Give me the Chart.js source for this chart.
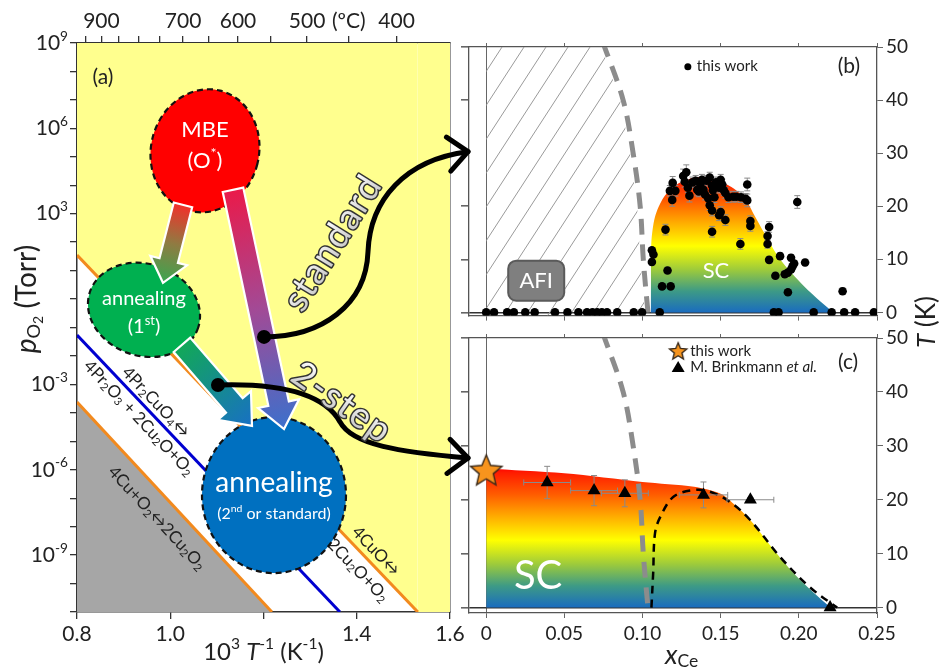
<!DOCTYPE html>
<html>
<head>
<meta charset="utf-8">
<script src="https://cdn.jsdelivr.net/npm/chart.js@4.4.1/dist/chart.umd.min.js"></script>
<style>
  html, body { margin: 0; padding: 0; background: #fff; }
  #wrap { position: relative; width: 940px; height: 669px; overflow: hidden; }
  canvas { position: absolute; }
  #cB { left: 460px; top: 0; z-index: 1; }
  #cC { left: 460px; top: 260px; z-index: 2; }
  #cA { left: 0; top: 0; z-index: 3; }
</style>
</head>
<body>
<div id="wrap">
  <canvas id="cB" width="480" height="330"></canvas>
  <canvas id="cC" width="480" height="409"></canvas>
  <canvas id="cA" width="480" height="669"></canvas>
</div>
<script>
// ---- panel (a): phase boundaries, 1000/T (K^-1) vs p(O2) (Torr)
const cuoLineX = [0.8, 1.531, 1.6];
const cuoLineP = [35, 1e-11, 1e-11];
const prLineX = [0.8, 1.364];
const prLineP = [5.4e-2, 1e-11];
const cu2o2LineX = [0.8, 1.218];
const cu2o2LineP = [2.4e-4, 1e-11];
const celsiusTicks = [950, 900, 850, 800, 750, 700, 650, 600, 550, 500, 450, 400];
const celsiusLabels = [900, 700, 600, 500, 400];
const pDecades = [-11, -10, -9, -8, -7, -6, -5, -4, -3, -2, -1, 0, 1, 2, 3, 4, 5, 6, 7, 8, 9];
const pLabelExps = [9, 6, 3, -3, -6, -9];
const invTLabels = [0.8, 1.0, 1.4, 1.6];

// ---- panels (b), (c): x_Ce vs T (K)
const xTicks = [0, 0.05, 0.10, 0.15, 0.20, 0.25];
const tTicks = [0, 10, 20, 30, 40, 50];
// this work, non-superconducting samples (Tc = 0)
const zeroX = [0, 0.005, 0.0134, 0.0177, 0.025, 0.031, 0.044, 0.052, 0.059, 0.0645, 0.068, 0.071,
  0.074, 0.0773, 0.0838, 0.0944, 0.0997, 0.111, 0.184, 0.187, 0.2095, 0.221, 0.229, 0.236, 0.248];
// this work, superconducting samples
const workX = [0.106, 0.107, 0.106, 0.1125, 0.118, 0.116, 0.1147, 0.1193, 0.1175, 0.121, 0.119, 0.126,
  0.128, 0.130, 0.129, 0.127, 0.134, 0.137, 0.138, 0.139, 0.141, 0.143, 0.1445, 0.145, 0.146, 0.150,
  0.151, 0.152, 0.155, 0.135, 0.140, 0.132, 0.147, 0.149, 0.153, 0.158, 0.136, 0.142, 0.143, 0.1445,
  0.150, 0.149, 0.153, 0.1445, 0.1626, 0.160, 0.163, 0.166, 0.167, 0.167, 0.169, 0.169, 0.181, 0.180,
  0.180, 0.181, 0.185, 0.188, 0.191, 0.193, 0.193, 0.195, 0.196, 0.197, 0.195, 0.204, 0.199, 0.228];
const workTc = [11.7, 10.9, 9.5, 4.9, 4.9, 7.9, 15.6, 24.4, 22.9, 22.9, 21.2, 25.7,
  26.4, 22.0, 23.5, 24.6, 24.8, 24.1, 25.0, 23.1, 24.8, 25.4, 23.9, 23.0, 21.7, 25.0,
  24.1, 23.0, 21.7, 23.1, 22.2, 24.5, 24.5, 23.5, 22.5, 21.8, 22.8, 21.5, 20.2, 19.2,
  18.9, 18.3, 17.4, 15.2, 12.9, 21.8, 21.7, 21.4, 24.1, 21.1, 17.2, 16.3, 16.1, 14.4,
  12.9, 9.9, 6.9, 10.6, 7.2, 7.5, 3.8, 8.1, 8.7, 9.2, 10.3, 9.4, 20.8, 4.0];
const workErr = [0, 0, 0.6, 0, 0, 0.6, 1.0, 1.2, 1.0, 1.0, 1.2, 1.3,
  1.4, 1.2, 0.9, 1.0, 1.0, 1.0, 1.0, 1.0, 1.0, 1.0, 1.0, 1.0, 1.0, 1.0,
  1.0, 1.0, 1.0, 1.0, 1.0, 1.0, 1.0, 1.0, 1.0, 1.0, 1.0, 1.0, 1.0, 1.0,
  1.0, 1.0, 1.0, 1.0, 1.0, 1.0, 1.0, 1.0, 1.2, 1.2, 1.0, 1.0, 1.0, 0.8,
  0.8, 0.6, 0.6, 0.6, 0.6, 0.6, 0.6, 0.6, 0.6, 0.6, 0.6, 0.6, 1.2, 0.6];
// SC dome outline, panel (b)
const scBx = [0.1052, 0.1054, 0.1056, 0.108, 0.1136, 0.122, 0.133, 0.141, 0.154, 0.165, 0.171, 0.178, 0.188, 0.203, 0.214, 0.222];
const scBt = [0, 6, 13, 18, 21.7, 24.1, 25.4, 25.4, 24.1, 21.7, 18.6, 14.9, 10, 5, 2, 0];
// AFI boundary (gray dashed), panels (b) and (c)
const afiX = [0.0745, 0.0876, 0.094, 0.0985, 0.1005, 0.1035, 0.104];
const afiT = [51, 40, 30, 20, 10, 0, -1];
// SC region outline, panel (c)
const scCx = [0, 0.05, 0.10, 0.133, 0.15, 0.158, 0.169, 0.184, 0.197, 0.209, 0.2205];
const scCt = [25.8, 24.9, 23.3, 22.4, 21.1, 19.3, 16.2, 10.7, 6.3, 2.9, 0];
// black dashed dome, panel (c)
const domeX = [0.1057, 0.1068, 0.108, 0.1115, 0.12, 0.133, 0.143, 0.156, 0.169, 0.188, 0.207, 0.2245];
const domeT = [0, 6.3, 13.8, 16.9, 20.6, 21.8, 21.5, 19.6, 16.2, 9.4, 3.8, 0];
// M. Brinkmann et al.
const brX = [0.039, 0.069, 0.0887, 0.139, 0.169, 0.220];
const brTc = [23.2, 21.7, 21.2, 20.9, 20.0, 0];
const brXErr = [0.015, 0.015, 0.015, 0.0155, 0.015, 0];
const brTErr = [3.0, 2.8, 2.5, 2.4, 0.4, 0];
// this work, panel (c)
const starX = [0];
const starTc = [25.5];

const FONT = 'Lato, "Open Sans", "DejaVu Sans", sans-serif';
const ORANGE = '#f28a1e';
const YELLOW = '#ffff8e';
const GRAY = '#a6a6a6';
const INK = '#222';
const FRAME = '#555';
const scStops = [[0, '#1a6cbf'], [4, '#3d9a86'], [8, '#9cca3c'], [12.5, '#ffff00'], [17, '#ffaa00'], [21, '#ff5c00'], [25, '#ff1c00'], [26, '#ff0000']];

Chart.defaults.font.family = FONT;
Chart.defaults.color = INK;

const pts = (xs, ys) => xs.map((x, i) => ({ x, y: ys[i] }));

// ---- rich text helpers (sub/superscripts, italics)
function parseRich(s) {
  const out = [];
  let buf = '', i = 0;
  const push = (t, m, it) => { if (t) out.push({ t, m, it }); };
  while (i < s.length) {
    const c = s[i];
    if (c === '_' || c === '^' || c === '%') {
      push(buf, 'n', false); buf = '';
      let t;
      if (s[i + 1] === '{') { const j = s.indexOf('}', i); t = s.slice(i + 2, j); i = j + 1; }
      else { t = s[i + 1]; i += 2; }
      push(t, c === '_' ? 'sub' : c === '^' ? 'sup' : 'n', c === '%');
    } else { buf += c; i++; }
  }
  push(buf, 'n', false);
  return out;
}

function drawRich(ctx, parts, x, y, size, align = 'center') {
  const segs = parts.map(p => {
    const s = p.m === 'sub' || p.m === 'sup' ? size * 0.65 : p.m === 'sub2' ? size * 0.5 : size;
    const dy = p.m === 'sub' ? size * 0.25 : p.m === 'sup' ? -size * 0.32 : p.m === 'sub2' ? size * 0.42 : 0;
    const font = `${p.it ? 'italic ' : ''}${s}px ${FONT}`;
    ctx.font = font;
    return { t: p.t, font, dy, w: ctx.measureText(p.t).width };
  });
  const total = segs.reduce((a, s) => a + s.w, 0);
  let cx = align === 'center' ? x - total / 2 : align === 'right' ? x - total : x;
  ctx.textAlign = 'left';
  ctx.textBaseline = 'middle';
  segs.forEach(s => { ctx.font = s.font; ctx.fillText(s.t, cx, y + s.dy); cx += s.w; });
}

function rotated(ctx, x, y, deg, fn) {
  ctx.save(); ctx.translate(x, y); ctx.rotate(deg * Math.PI / 180); fn(); ctx.restore();
}

// ---- panel (a) annotations, placed in data coordinates [1000/T, log10 p]
const bubblesA = [
  { at: [1.0745, 5.21], rx: 54, ry: 62, rot: 14, fill: '#ff0000', lines: [['MBE', 22, -21], ['(O^*)', 22, 10]] },
  { at: [0.9437, -0.38], rx: 57, ry: 46, rot: 18, fill: '#00b050', lines: [['annealing', 20, -11], ['(1^{st})', 20, 17]] },
  { at: [1.2225, -6.89], rx: 72, ry: 78, rot: 0, fill: '#0070c0', lines: [['annealing', 28, -12], ['(2^{nd} or standard)', 16, 19]] },
];
const arrowsA = [
  { from: [1.0273, 3.31], to: [0.9844, 0.57], shaft: 19, head: 38, headLen: 23, stops: [[0, '#f2302a'], [0.5, '#8f7b42'], [1, '#3aa650']] },
  { from: [1.1346, 3.84], to: [1.244, -4.57], shaft: 21, head: 42, headLen: 26, stops: [[0, '#ea1a4a'], [0.5, '#a24a96'], [1, '#3c70cc']] },
  { from: [1.0252, -1.61], to: [1.1753, -4.46], shaft: 22, head: 44, headLen: 27, stops: [[0, '#12a858'], [1, '#1870c4']] },
];
const curvesA = [
  [[1.2011, -1.33], [1.3255, -1.33], [1.4198, -0.20], [1.4241, 1.66], [1.4284, 3.49], [1.5035, 4.90], [1.6386, 5.18]],
  [[1.1024, -3.02], [1.2461, -2.95], [1.3319, -3.37], [1.3641, -4.32], [1.3898, -5.13], [1.4928, -5.38], [1.6386, -5.59]],
];
const routeLabels = [
  { text: 'standard', at: [1.349, 1.98], angle: -58 },
  { text: '2-step', at: [1.3684, -3.65], angle: 35 },
];
const lineLabels = [
  { text: '4Pr_2CuO_4↔', at: [0.9694, -3.62], line: 1 },
  { text: '4Pr_2O_3 + 2Cu_2O+O_2', at: [0.933, -4.18], line: 1 },
  { text: '4Cu+O_2↔2Cu_2O_2', at: [0.9716, -7.70], line: 2 },
  { text: '4CuO↔', at: [1.4413, -8.86], line: 0 },
  { text: '2Cu_2O+O_2', at: [1.4027, -9.53], line: 0 },
];

function blockArrow(ctx, x0, y0, x1, y1, a) {
  const ang = Math.atan2(y1 - y0, x1 - x0), len = Math.hypot(x1 - x0, y1 - y0);
  ctx.save();
  ctx.translate(x0, y0); ctx.rotate(ang);
  ctx.beginPath();
  ctx.moveTo(0, -a.shaft / 2); ctx.lineTo(len - a.headLen, -a.shaft / 2); ctx.lineTo(len - a.headLen, -a.head / 2);
  ctx.lineTo(len, 0);
  ctx.lineTo(len - a.headLen, a.head / 2); ctx.lineTo(len - a.headLen, a.shaft / 2); ctx.lineTo(0, a.shaft / 2);
  ctx.closePath();
  const g = ctx.createLinearGradient(0, 0, len, 0);
  a.stops.forEach(([o, c]) => g.addColorStop(o, c));
  ctx.fillStyle = g; ctx.fill();
  ctx.lineWidth = 2.2; ctx.strokeStyle = '#fff'; ctx.lineJoin = 'miter'; ctx.stroke();
  ctx.restore();
}

function curveArrow(ctx, p) {
  ctx.save();
  ctx.lineWidth = 5; ctx.strokeStyle = '#000'; ctx.lineCap = 'round'; ctx.lineJoin = 'round';
  ctx.beginPath(); ctx.moveTo(p[0][0], p[0][1]);
  for (let i = 1; i + 2 < p.length; i += 3) ctx.bezierCurveTo(p[i][0], p[i][1], p[i + 1][0], p[i + 1][1], p[i + 2][0], p[i + 2][1]);
  ctx.stroke();
  const tip = p[p.length - 1], prev = p[p.length - 2];
  const ang = Math.atan2(tip[1] - prev[1], tip[0] - prev[0]);
  ctx.beginPath();
  [-0.72, 0.72].forEach(s => {
    ctx.moveTo(tip[0] + 26 * Math.cos(ang + Math.PI + s), tip[1] + 26 * Math.sin(ang + Math.PI + s));
    ctx.lineTo(tip[0], tip[1]);
  });
  ctx.stroke();
  ctx.beginPath(); ctx.arc(p[0][0], p[0][1], 7, 0, Math.PI * 2); ctx.fillStyle = '#000'; ctx.fill();
  ctx.restore();
}

const panelAPlugin = {
  id: 'panelA',
  afterDraw(chart) {
    const { ctx, chartArea: a, scales } = chart;
    const X = v => scales.x.getPixelForValue(v);
    const Y = lp => scales.y.getPixelForValue(Math.pow(10, lp));
    const P = ([x, lp]) => [X(x), Y(lp)];
    ctx.save();
    ctx.fillStyle = INK;
    // log tick labels
    pLabelExps.forEach(e => drawRich(ctx, parseRich(`10^{${e}}`), a.left - 9, Y(e), 21, 'right'));
    // axis titles
    drawRich(ctx, parseRich('10^3 %T^{-1} (K^{-1})'), (a.left + a.right) / 2, a.bottom + 40, 24);
    rotated(ctx, a.left - 50, Y(0), -90, () => drawRich(ctx, [
      { t: 'p', m: 'n', it: true }, { t: 'O', m: 'sub' }, { t: '2', m: 'sub2' }, { t: ' (Torr)', m: 'n' }
    ], 0, 0, 28));
    // reaction labels along the boundaries
    lineLabels.forEach(l => {
      const d = chart.getDatasetMeta(l.line).data;
      const ang = Math.atan2(d[1].y - d[0].y, d[1].x - d[0].x) * 180 / Math.PI;
      const [x, y] = P(l.at);
      ctx.fillStyle = INK;
      rotated(ctx, x, y, ang, () => drawRich(ctx, parseRich(l.text), 0, 0, 17));
    });
    // process bubbles
    bubblesA.forEach(b => {
      const [cx, cy] = P(b.at);
      ctx.beginPath(); ctx.ellipse(cx, cy, b.rx, b.ry, b.rot * Math.PI / 180, 0, Math.PI * 2);
      ctx.fillStyle = b.fill; ctx.fill();
      ctx.setLineDash([6, 4]); ctx.lineWidth = 2.2; ctx.strokeStyle = '#111'; ctx.stroke(); ctx.setLineDash([]);
      ctx.fillStyle = '#fff';
      b.lines.forEach(([t, size, dy]) => drawRich(ctx, parseRich(t), cx, cy + dy, size));
    });
    arrowsA.forEach(ar => { const [x0, y0] = P(ar.from), [x1, y1] = P(ar.to); blockArrow(ctx, x0, y0, x1, y1, ar); });
    curvesA.forEach(c => curveArrow(ctx, c.map(P)));
    routeLabels.forEach(r => {
      const [x, y] = P(r.at);
      rotated(ctx, x, y, r.angle, () => {
        ctx.font = `36px ${FONT}`; ctx.textAlign = 'center'; ctx.textBaseline = 'middle';
        if ('letterSpacing' in ctx) ctx.letterSpacing = '2px';
        ctx.lineWidth = 3; ctx.strokeStyle = '#333'; ctx.lineJoin = 'round'; ctx.strokeText(r.text, 0, 0);
        const g = ctx.createLinearGradient(0, -16, 0, 16); g.addColorStop(0, '#ffffff'); g.addColorStop(1, '#c4c4c4');
        ctx.fillStyle = g; ctx.fillText(r.text, 0, 0);
        if ('letterSpacing' in ctx) ctx.letterSpacing = '0px';
      });
    });
    ctx.fillStyle = INK;
    drawRich(ctx, parseRich('(a)'), X(0.8558), Y(7.78), 21);
    ctx.restore();
  }
};

const axisGrid = { drawOnChartArea: false, tickLength: 7, color: '#333', lineWidth: 1.3 };
const axisBorder = { color: '#333', width: 1.5 };

new Chart(document.getElementById('cA'), {
  type: 'scatter',
  data: {
    datasets: [
      { label: '4CuO / 2Cu2O+O2', data: pts(cuoLineX, cuoLineP), showLine: true, pointRadius: 0, borderWidth: 3,
        borderColor: ORANGE, fill: 'end', backgroundColor: YELLOW,
        segment: { borderColor: c => c.p0DataIndex >= 1 ? 'rgba(0,0,0,0)' : ORANGE } },
      { label: '4Pr2CuO4 / 4Pr2O3+2Cu2O+O2', data: pts(prLineX, prLineP), showLine: true, pointRadius: 0, borderWidth: 3,
        borderColor: '#0000d0', fill: false },
      { label: '4Cu+O2 / 2Cu2O2', data: pts(cu2o2LineX, cu2o2LineP), showLine: true, pointRadius: 0, borderWidth: 3,
        borderColor: ORANGE, fill: 'start', backgroundColor: GRAY },
    ]
  },
  options: {
    responsive: false, animation: false, devicePixelRatio: 1,
    layout: { autoPadding: false, padding: { left: 0, right: 30, top: 0, bottom: 0 } },
    plugins: { legend: { display: false }, tooltip: { enabled: false } },
    scales: {
      x: {
        type: 'linear', position: 'bottom', min: 0.8, max: 1.6,
        afterFit: s => { s.height = 57; },
        afterBuildTicks: s => { s.ticks = [0.8, 1.0, 1.2, 1.4, 1.6].map(value => ({ value })); },
        ticks: { autoSkip: false, maxRotation: 0, padding: 3, font: { size: 21 }, color: INK,
          callback: v => invTLabels.some(l => Math.abs(l - v) < 1e-6) ? v.toFixed(1) : '' },
        grid: axisGrid, border: axisBorder
      },
      xTop: {
        type: 'linear', position: 'top', min: 0.8, max: 1.6,
        afterFit: s => { s.height = 43; },
        afterBuildTicks: s => { s.ticks = celsiusTicks.map(c => ({ value: 1000 / (c + 273.15) })); },
        ticks: { autoSkip: false, maxRotation: 0, padding: 2, font: { size: 21 }, color: INK,
          callback: v => { const c = Math.round(1000 / v - 273.15); return celsiusLabels.includes(c) ? String(c) : c === 450 ? '(ºC)' : ''; } },
        grid: axisGrid, border: axisBorder
      },
      y: {
        type: 'logarithmic', position: 'left', min: 1e-11, max: 1e9,
        afterFit: s => { s.width = 77; },
        afterBuildTicks: s => { s.ticks = pDecades.map(e => ({ value: Math.pow(10, e) })); },
        ticks: { display: false },
        grid: axisGrid, border: axisBorder
      },
      yR: {
        type: 'linear', position: 'right', min: 0, max: 1,
        afterFit: s => { s.width = 0; },
        ticks: { display: false }, grid: { display: false }, border: axisBorder
      }
    }
  },
  plugins: [panelAPlugin]
});

// ---- panels (b) and (c)
function scGradient(chart) {
  const { ctx, chartArea, scales } = chart;
  if (!chartArea) return 'rgba(0,0,0,0)';
  const y = scales.y;
  const y0 = y.getPixelForValue(0), y1 = y.getPixelForValue(26);
  const g = ctx.createLinearGradient(0, y0, 0, y1);
  scStops.forEach(([t, c]) => g.addColorStop(t / 26, c));
  return g;
}

function drawErrorBars(chart, index) {
  const ds = chart.data.datasets[index];
  if (!ds.yErr && !ds.xErr) return;
  const { ctx, scales: { x, y } } = chart;
  ctx.save();
  ctx.strokeStyle = '#8a8a8a'; ctx.lineWidth = 1;
  ds.data.forEach((p, i) => {
    const px = x.getPixelForValue(p.x), py = y.getPixelForValue(p.y);
    const ye = ds.yErr ? ds.yErr[i] : 0, xe = ds.xErr ? ds.xErr[i] : 0;
    ctx.beginPath();
    if (ye) {
      const t = y.getPixelForValue(p.y + ye), b = y.getPixelForValue(p.y - ye);
      ctx.moveTo(px, t); ctx.lineTo(px, b);
      ctx.moveTo(px - 3, t); ctx.lineTo(px + 3, t); ctx.moveTo(px - 3, b); ctx.lineTo(px + 3, b);
    }
    if (xe) {
      const l = x.getPixelForValue(p.x - xe), r = x.getPixelForValue(p.x + xe);
      ctx.moveTo(l, py); ctx.lineTo(r, py);
      ctx.moveTo(l, py - 3); ctx.lineTo(l, py + 3); ctx.moveTo(r, py - 3); ctx.lineTo(r, py + 3);
    }
    ctx.stroke();
  });
  ctx.restore();
}

function starImage(r, fill) {
  const c = document.createElement('canvas');
  const s = Math.ceil(r * 2 + 4);
  c.width = c.height = s;
  const g = c.getContext('2d');
  g.translate(s / 2, s / 2 + r * 0.08);
  g.beginPath();
  for (let i = 0; i < 10; i++) {
    const rr = i % 2 ? r * 0.45 : r, a = -Math.PI / 2 + i * Math.PI / 5;
    g.lineTo(rr * Math.cos(a), rr * Math.sin(a));
  }
  g.closePath();
  g.fillStyle = fill; g.fill();
  g.lineWidth = 1.4; g.strokeStyle = '#3a2a1a'; g.stroke();
  return c;
}

function phaseOptions(cfg) {
  const zeroLine = c => (c.tick && c.tick.value === 0) ? '#333' : 'rgba(0,0,0,0)';
  return {
    responsive: false, animation: false, devicePixelRatio: 1,
    layout: { autoPadding: false, padding: 0 },
    plugins: { legend: { display: false }, tooltip: { enabled: false } },
    scales: {
      x: {
        type: 'linear', position: 'bottom', min: -0.011, max: 0.25,
        afterFit: s => { s.height = cfg.bottom; },
        afterBuildTicks: s => { s.ticks = xTicks.map(value => ({ value })); },
        ticks: { display: cfg.xLabels, autoSkip: false, maxRotation: 0, padding: 4, font: { size: 19 }, color: INK,
          callback: v => v === 0 ? '0' : v.toFixed(2) },
        grid: { drawOnChartArea: true, color: c => (c.tick && c.tick.value === 0) ? '#666' : 'rgba(0,0,0,0)', tickColor: '#666', tickLength: 5 },
        border: { color: FRAME, width: 1.3 }
      },
      xTop: {
        type: 'linear', position: 'top', min: -0.011, max: 0.25,
        afterFit: s => { s.height = cfg.top; },
        afterBuildTicks: s => { s.ticks = xTicks.map(value => ({ value })); },
        ticks: { display: false },
        grid: { drawOnChartArea: false, tickLength: 4, color: '#666' },
        border: { color: FRAME, width: 1.3 }
      },
      y: {
        type: 'linear', position: 'left', min: cfg.ymin, max: 50,
        afterFit: s => { s.width = 9; },
        afterBuildTicks: s => { s.ticks = tTicks.map(value => ({ value })); },
        ticks: { display: false },
        grid: { drawOnChartArea: true, color: zeroLine, lineWidth: 1.6, tickColor: '#666', tickLength: 8 },
        border: { color: FRAME, width: 1.3 }
      },
      yR: {
        type: 'linear', position: 'right', min: cfg.ymin, max: 50,
        afterFit: s => { s.width = 63; },
        afterBuildTicks: s => { s.ticks = tTicks.map(value => ({ value })); },
        ticks: { padding: 3, font: { size: 19 }, color: INK },
        grid: { drawOnChartArea: false, tickLength: 6, color: '#666' },
        border: { color: FRAME, width: 1.3 }
      }
    }
  };
}

const errorBarPlugin = { id: 'errorBars', beforeDatasetDraw(chart, args) { drawErrorBars(chart, args.index); } };

const notesB = { afi: [0.032, 5.97], sc: [0.147, 7.8], legend: [0.129, 46.3], tag: [0.232, 46.3] };
const notesC = { sc: [0.0332, 5.9], legendStar: [0.1228, 47.6], legendTri: [0.1228, 44.6], tag: [0.2315, 45.5] };

const panelBPlugin = {
  id: 'panelB',
  beforeDatasetsDraw(chart) {
    const { ctx, chartArea: a, scales: { x, y } } = chart;
    ctx.save();
    ctx.beginPath(); ctx.rect(a.left, a.top, a.width, a.height); ctx.clip();
    const x0 = x.getPixelForValue(0);
    ctx.beginPath();
    ctx.moveTo(x0, a.bottom); ctx.lineTo(x0, a.top - 10);
    afiX.forEach((v, i) => ctx.lineTo(x.getPixelForValue(v) - 3, y.getPixelForValue(afiT[i])));
    ctx.closePath(); ctx.clip();
    ctx.strokeStyle = '#9a9a9a'; ctx.lineWidth = 1;
    const slope = 1 / Math.tan(57 * Math.PI / 180), h = a.height;
    ctx.beginPath();
    for (let k = -h; k < a.width; k += 22) {
      ctx.moveTo(x0 + k, a.bottom); ctx.lineTo(x0 + k + h * slope, a.top);
    }
    ctx.stroke();
    ctx.restore();
  },
  afterDraw(chart) {
    const { ctx, scales: { x, y } } = chart;
    const P = ([vx, vy]) => [x.getPixelForValue(vx), y.getPixelForValue(vy)];
    ctx.save();
    const [ax, ay] = P(notesB.afi);
    ctx.beginPath(); ctx.roundRect(ax - 28, ay - 20, 56, 40, 8);
    ctx.fillStyle = '#7f7f7f'; ctx.fill(); ctx.lineWidth = 2; ctx.strokeStyle = '#5a5a5a'; ctx.stroke();
    ctx.fillStyle = '#fff';
    drawRich(ctx, parseRich('AFI'), ax, ay, 22);
    const [sx, sy] = P(notesB.sc);
    drawRich(ctx, parseRich('SC'), sx, sy, 22);
    const [lx, ly] = P(notesB.legend);
    ctx.beginPath(); ctx.arc(lx, ly, 3.5, 0, Math.PI * 2); ctx.fillStyle = '#000'; ctx.fill();
    ctx.fillStyle = INK;
    drawRich(ctx, parseRich('this work'), lx + 9, ly, 15, 'left');
    const [tx, ty] = P(notesB.tag);
    drawRich(ctx, parseRich('(b)'), tx, ty, 21);
    ctx.restore();
  }
};

new Chart(document.getElementById('cB'), {
  type: 'scatter',
  data: {
    datasets: [
      { label: 'this work', order: 0, data: pts(zeroX, zeroX.map(() => 0)).concat(pts(workX, workTc)),
        yErr: zeroX.map(() => 0).concat(workErr),
        pointRadius: 4.3, backgroundColor: '#000', borderWidth: 0 },
      { label: 'AFI boundary', order: 1, clip: 0, data: pts(afiX, afiT), showLine: true, pointRadius: 0, tension: 0.35,
        borderColor: '#8c8c8c', borderWidth: 5, borderDash: [16, 10], fill: false },
      { label: 'SC', order: 2, clip: 0, data: pts(scBx, scBt), showLine: true, pointRadius: 0, tension: 0.3,
        borderWidth: 0, borderColor: 'rgba(0,0,0,0)', fill: { value: 0 }, backgroundColor: c => scGradient(c.chart) },
    ]
  },
  options: phaseOptions({ top: 47, bottom: 10, ymin: -0.6, xLabels: false }),
  plugins: [errorBarPlugin, panelBPlugin]
});

const starBig = starImage(16.5, '#f7941d');
const starSmall = starImage(9, '#f7941d');

const panelCPlugin = {
  id: 'panelC',
  afterDraw(chart) {
    const { ctx, chartArea: a, scales: { x, y } } = chart;
    const P = ([vx, vy]) => [x.getPixelForValue(vx), y.getPixelForValue(vy)];
    ctx.save();
    ctx.fillStyle = '#fff';
    const [sx, sy] = P(notesC.sc);
    drawRich(ctx, parseRich('SC'), sx, sy, 40);
    const [s1x, s1y] = P(notesC.legendStar);
    ctx.drawImage(starSmall, s1x - starSmall.width / 2, s1y - starSmall.height / 2);
    ctx.fillStyle = INK;
    drawRich(ctx, parseRich('this work'), s1x + 12, s1y, 15, 'left');
    const [t1x, t1y] = P(notesC.legendTri);
    ctx.beginPath(); ctx.moveTo(t1x, t1y - 6); ctx.lineTo(t1x + 6.5, t1y + 5); ctx.lineTo(t1x - 6.5, t1y + 5); ctx.closePath();
    ctx.fillStyle = '#000'; ctx.fill();
    ctx.fillStyle = INK;
    drawRich(ctx, parseRich('M. Brinkmann %{et al.}'), t1x + 12, t1y, 15, 'left');
    const [tx, ty] = P(notesC.tag);
    drawRich(ctx, parseRich('(c)'), tx, ty, 21);
    drawRich(ctx, parseRich('%x_{Ce}'), x.getPixelForValue(0.125), a.bottom + 42, 27);
    rotated(ctx, a.right + 50, a.top - 16, -90, () => drawRich(ctx, parseRich('%T (K)'), 0, 0, 26));
    ctx.restore();
  }
};

new Chart(document.getElementById('cC'), {
  type: 'scatter',
  data: {
    datasets: [
      { label: 'this work', order: 0, data: pts(starX, starTc), pointStyle: starBig, pointRadius: 17 },
      { label: 'M. Brinkmann et al.', order: 1, data: pts(brX, brTc), xErr: brXErr, yErr: brTErr,
        pointStyle: 'triangle', pointRadius: 7.5, backgroundColor: '#000', borderColor: '#000', borderWidth: 0 },
      { label: 'SC dome', order: 2, data: pts(domeX, domeT), showLine: true, pointRadius: 0, tension: 0.35,
        borderColor: '#000', borderWidth: 2.5, borderDash: [8, 6], fill: false },
      { label: 'AFI boundary', order: 3, clip: 0, data: pts(afiX, afiT), showLine: true, pointRadius: 0, tension: 0.35,
        borderColor: '#8c8c8c', borderWidth: 5, borderDash: [16, 10], fill: false },
      { label: 'SC', order: 4, clip: 0, data: pts(scCx, scCt), showLine: true, pointRadius: 0, tension: 0.3,
        borderWidth: 0, borderColor: 'rgba(0,0,0,0)', fill: { value: 0 }, backgroundColor: c => scGradient(c.chart) },
    ]
  },
  options: phaseOptions({ top: 78, bottom: 56, ymin: -1.0, xLabels: true }),
  plugins: [errorBarPlugin, panelCPlugin]
});
</script>
</body>
</html>
